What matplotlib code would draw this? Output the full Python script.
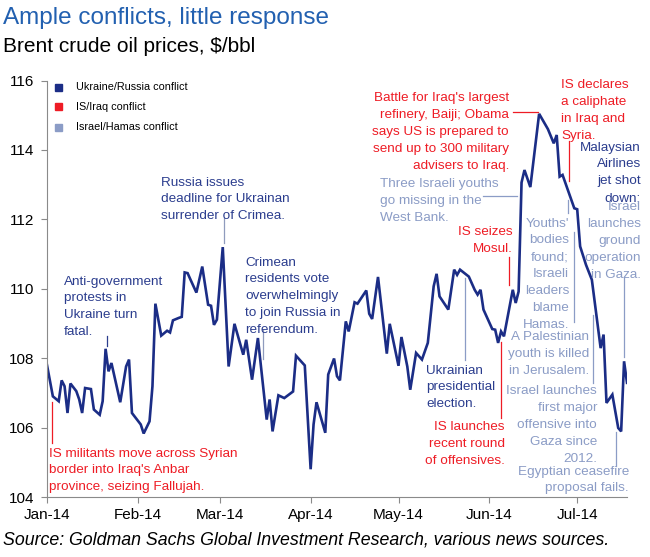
import matplotlib.pyplot as plt
import matplotlib.dates as mdates
from matplotlib.lines import Line2D
from matplotlib.patches import Rectangle
import pandas as pd

plt.rcParams["font.family"] = ["Liberation Sans", "DejaVu Sans"]

# Brent crude, $/bbl
dates = [
    "2014-01-01", "2014-01-03", "2014-01-05", "2014-01-06", "2014-01-07", "2014-01-08",
    "2014-01-09", "2014-01-11", "2014-01-12", "2014-01-13", "2014-01-14", "2014-01-16",
    "2014-01-17", "2014-01-19", "2014-01-20", "2014-01-21", "2014-01-22", "2014-01-23",
    "2014-01-26", "2014-01-28", "2014-01-29", "2014-01-30",
    "2014-02-02", "2014-02-03", "2014-02-05", "2014-02-06", "2014-02-07", "2014-02-09",
    "2014-02-11", "2014-02-12", "2014-02-13", "2014-02-15", "2014-02-16", "2014-02-17",
    "2014-02-18", "2014-02-19", "2014-02-21", "2014-02-23", "2014-02-25", "2014-02-26",
    "2014-02-27", "2014-02-28",
    "2014-03-02", "2014-03-04", "2014-03-06", "2014-03-09", "2014-03-10", "2014-03-12",
    "2014-03-14", "2014-03-17", "2014-03-18", "2014-03-19", "2014-03-21", "2014-03-23",
    "2014-03-26", "2014-03-27", "2014-03-30",
    "2014-04-01", "2014-04-02", "2014-04-03", "2014-04-06", "2014-04-07", "2014-04-09",
    "2014-04-10", "2014-04-11", "2014-04-13", "2014-04-14", "2014-04-16", "2014-04-17",
    "2014-04-20", "2014-04-21", "2014-04-22", "2014-04-24", "2014-04-27", "2014-04-28",
    "2014-05-01", "2014-05-02", "2014-05-04", "2014-05-05", "2014-05-07", "2014-05-09",
    "2014-05-11", "2014-05-13", "2014-05-14", "2014-05-15", "2014-05-18", "2014-05-20",
    "2014-05-21", "2014-05-22", "2014-05-25", "2014-05-27", "2014-05-28", "2014-05-29",
    "2014-05-30",
    "2014-06-02", "2014-06-03", "2014-06-04", "2014-06-05", "2014-06-06", "2014-06-09",
    "2014-06-10", "2014-06-11", "2014-06-12", "2014-06-13", "2014-06-15", "2014-06-18",
    "2014-06-21", "2014-06-23", "2014-06-24", "2014-06-25", "2014-06-26", "2014-06-30",
    "2014-07-01", "2014-07-02", "2014-07-04", "2014-07-06", "2014-07-09", "2014-07-10",
    "2014-07-11", "2014-07-13", "2014-07-15", "2014-07-16", "2014-07-17", "2014-07-18",
]
prices = [
    107.8, 106.9, 106.76, 107.36, 107.19, 106.42, 107.27, 107.05, 106.81, 106.42, 107.14,
    107.11, 106.52, 106.37, 106.76, 108.27, 107.62, 107.86, 106.73, 107.76, 107.96, 106.42,
    106.09, 105.83, 106.18, 107.19, 109.57, 108.65, 108.79, 108.74, 109.09, 109.16, 109.19,
    110.47, 110.45, 110.26, 109.89, 110.64, 109.54, 109.51, 108.96, 109.11,
    111.2, 107.76, 108.99, 108.1, 108.53, 107.38, 108.58, 106.23, 106.81, 105.89, 106.93,
    106.85, 107.04, 108.07, 107.79,
    104.8, 106.09, 106.73, 105.85, 107.53, 107.99, 107.48, 107.36, 109.06, 108.77, 109.61,
    109.57, 109.95, 109.28, 109.13, 110.34, 108.13, 108.99,
    107.78, 108.61, 107.76, 107.09, 108.15, 107.96, 108.44, 110.07, 110.43, 109.78, 109.4,
    110.55, 110.4, 110.55, 110.35, 109.97, 109.83, 109.97, 109.4,
    108.84, 108.82, 108.44, 108.77, 108.63, 109.97, 109.59, 109.92, 113.06, 113.42, 112.93,
    115.04, 114.6, 114.19, 114.43, 113.23, 113.28, 112.32,
    112.29, 111.22, 110.69, 110.26, 108.29, 108.68, 106.71, 106.95, 105.99, 105.89, 107.91,
    107.29,
]

legend_labels = ["Ukraine/Russia conflict", "IS/Iraq conflict", "Israel/Hamas conflict"]

NAVY = "#1B2D86"
BLUE_TXT = "#2B3D8E"
RED = "#EE1C25"
LIGHT = "#8B9CC6"
TITLE = "#2260B0"

W, H = 650, 557


def fx(x):
    return x / W


def fy(y):
    return 1 - y / H


fig = plt.figure(figsize=(6.5, 5.57), dpi=100)
ax = fig.add_axes([fx(47), fy(497), fx(627) - fx(47), fy(80.5) - fy(497)])

ax.plot(pd.to_datetime(dates), prices, color=NAVY, lw=1.9, solid_joinstyle="miter")

ax.set_ylim(104, 116)
ax.set_yticks(range(104, 117, 2))
ax.set_xlim(pd.Timestamp("2014-01-01"), pd.Timestamp("2014-07-18"))
ax.xaxis.set_major_locator(mdates.MonthLocator())
ax.xaxis.set_major_formatter(mdates.DateFormatter("%b-%y"))

for s in ["top", "right"]:
    ax.spines[s].set_visible(False)
for s in ["left", "bottom"]:
    ax.spines[s].set_color("#8a8a8a")
ax.tick_params(axis="both", colors="#8a8a8a", labelcolor="black", labelsize=11, length=4)
ax.tick_params(axis="y", pad=5)
ax.tick_params(axis="x", pad=4)

# titles
fig.text(fx(3), fy(18), "Ample conflicts, little response", color=TITLE, fontsize=17.5,
         va="center", ha="left")
fig.text(fx(3), fy(46), "Brent crude oil prices, $/bbl", color="black", fontsize=15,
         va="center", ha="left")
fig.text(fx(3), fy(540), "Source: Goldman Sachs Global Investment Research, various news sources.",
         fontsize=12.8, style="italic", color="black", va="center", ha="left")

# legend
for i, (lab, c) in enumerate(zip(legend_labels, [NAVY, RED, LIGHT])):
    yc = 87 + i * 20
    fig.add_artist(Rectangle((fx(55.5), fy(yc + 3.5)), 7 / W, 7 / H, color=c,
                             transform=fig.transFigure))
    fig.text(fx(76), fy(yc), lab, fontsize=7.8, va="center", ha="left")


def note(txt, x, y, color, ha="left"):
    fig.text(fx(x), fy(y - 5.5), txt, color=color, fontsize=9.7, ha=ha, va="top",
             multialignment=ha, linespacing=1.55)


def link(x0, y0, x1, y1, color):
    fig.add_artist(Line2D([fx(x0), fx(x1)], [fy(y0), fy(y1)], color=color, lw=0.9,
                          transform=fig.transFigure))


note("Anti-government\nprotests in\nUkraine turn\nfatal.", 64, 281, BLUE_TXT)
link(107, 336, 107, 346, BLUE_TXT)

note("Russia issues\ndeadline for Ukrainan\nsurrender of Crimea.", 161, 182, BLUE_TXT)
link(224, 218, 224, 243, "#8f9bbd")

note("Crimean\nresidents vote\noverwhelmingly\nto join Russia in\nreferendum.", 245, 262, BLUE_TXT)
link(263, 330, 263, 359, "#8f9bbd")

note("Ukrainian\npresidential\nelection.", 426, 370, BLUE_TXT)
link(465, 278, 465, 360, LIGHT)

note("IS militants move across Syrian\nborder into Iraq's Anbar\nprovince, seizing Fallujah.",
     49, 453, RED)
link(52, 402, 52, 443, RED)

note("IS launches\nrecent round\nof offensives.", 505, 427, RED, ha="right")
link(501, 342, 501, 418, RED)

note("IS seizes\nMosul.", 513, 232, RED, ha="right")
link(509, 257, 509, 285, RED)

note("Battle for Iraq's largest\nrefinery, Baiji; Obama\nsays US is prepared to\n"
     "send up to 300 military\nadvisers to Iraq.", 509, 98, RED, ha="right")
link(513, 112, 538, 112, RED)

note("IS declares\na caliphate\nin Iraq and\nSyria.", 561, 85, RED)
link(569, 141, 569, 181, RED)

note("Three Israeli youths\ngo missing in the\nWest Bank.", 380, 184, LIGHT)
link(483, 196, 517, 196, LIGHT)

note("Youths'\nbodies\nfound;\nIsraeli\nleaders\nblame\nHamas.", 569, 223, LIGHT, ha="right")
link(567.5, 200, 567.5, 213, LIGHT)

note("A Palestinian\nyouth is killed\nin Jerusalem.", 589, 337, LIGHT, ha="right")
link(573.5, 232, 573.5, 322, LIGHT)

note("Israel launches\nfirst major\noffensive into\nGaza since\n2012.", 597, 391, LIGHT, ha="right")
link(592.5, 315, 592.5, 383, LIGHT)

note("Egyptian ceasefire\nproposal fails.", 629, 471, LIGHT, ha="right")
link(615.5, 432, 615.5, 466, LIGHT)

note("Malaysian\nAirlines\njet shot\ndown;", 641, 147, BLUE_TXT, ha="right")
note("Israel\nlaunches\nground\noperation\nin Gaza.", 641, 207, LIGHT, ha="right")
link(623.5, 277, 623.5, 357, LIGHT)

fig.savefig("out.png", dpi=100)
